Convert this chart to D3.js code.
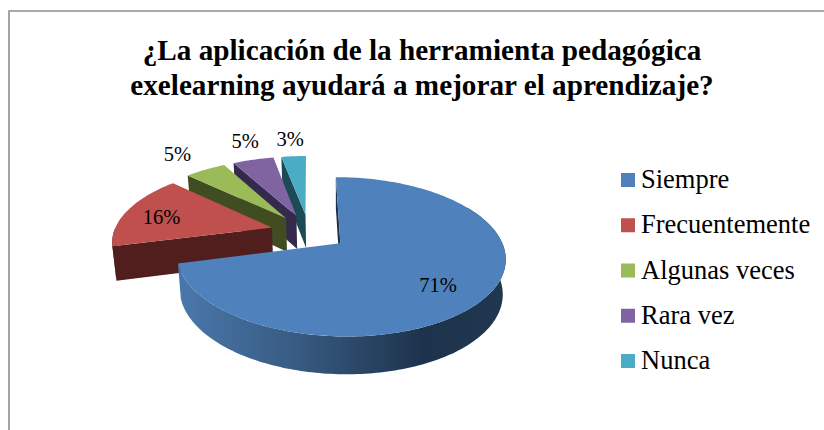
<!DOCTYPE html>
<html><head><meta charset="utf-8">
<script src="https://cdn.jsdelivr.net/npm/d3@7/dist/d3.min.js"></script>
<style>html,body{margin:0;padding:0;background:#fff}svg{display:block}text{font-family:"Liberation Serif",serif;fill:#000}</style>
</head><body><svg id="c" width="824" height="430"></svg>
<script>
const titleLines = ["¿La aplicación de la herramienta pedagógica","exelearning ayudará a mejorar el aprendizaje?"];
const categories = ["Siempre","Frecuentemente","Algunas veces","Rara vez","Nunca"];
const values = [71,16,5,5,3];
const faceColors = ["#4f81bd","#c0504d","#9bbb59","#8064a2","#4bacc6"];
const wallColors = ["#1d334d","#4f1e1d","#404d20","#352a4e","#1c4a55"];
const labelNudge = [[-6,4],[-4,2],[-3,-1],[5,-2],[0,0]];

const W=824,H=430;
const svg=d3.select("#c");
// frame
svg.append("path").attr("d",d3.line()([[9,H],[9,11],[W,11]])).attr("fill","none").attr("stroke","#8e8e8e").attr("stroke-width",1.6);
svg.append("g").selectAll("text").data(titleLines).join("text")
  .attr("x",422).attr("y",(d,i)=>60+i*35).attr("text-anchor","middle")
  .attr("font-size",29.2).attr("font-weight","bold").text(d=>d);

// perspective disc projection: the underside of the disc is slightly smaller
const cx=309,cy=232,Rx=158,Ry=73.6,k=0.165,depth=34,explode=0.245,shrink=0.018,vpx=340;
const project=(u,v,z=0)=>{
  const s=1/(1+k*v),x=cx+Rx*u*s;
  return [z?vpx+(x-vpx)*(1-shrink):x, cy-Ry*v*s+z*Math.sqrt(s)];
};
const pie=d3.pie().sort(null).value(d=>d);
const arcs=pie(values);
const line=d3.line();
const apex=a=>{const m=(a.startAngle+a.endAngle)/2;return [explode*Math.sin(m),explode*Math.cos(m)];};
const rim=(a,t)=>{const [ax,av]=apex(a);return [ax+Math.sin(t),av+Math.cos(t)];};
const steps=(t0,t1)=>{const n=Math.max(2,Math.ceil((t1-t0)/0.02));return d3.range(n+1).map(i=>t0+(t1-t0)*i/n);};

const defs=svg.append("defs");
const grad=defs.append("linearGradient").attr("id","rimMain").attr("gradientUnits","userSpaceOnUse")
  .attr("x1",180).attr("x2",506).attr("y1",0).attr("y2",0);
[[0,"#4a77ab"],[0.37,"#375a80"],[0.74,"#1d334d"],[1,"#20374f"]].forEach(s=>grad.append("stop").attr("offset",s[0]).attr("stop-color",s[1]));

const g=svg.append("g");
arcs.map((a,i)=>i).reverse().forEach(i=>{
  const a=arcs[i],[ax,av]=apex(a);
  const wall=i===0?"url(#rimMain)":wallColors[i];
  // radial wall on the starting edge
  const p=rim(a,a.startAngle);
  g.append("path").attr("d",line([project(ax,av),project(p[0],p[1]),project(p[0],p[1],depth),project(ax,av,depth)])+"Z")
    .attr("fill",wallColors[i]);
  // outer rim, whole lower half plus tangents
  const t0=Math.max(a.startAngle,Math.PI/3),t1=Math.min(a.endAngle,3*Math.PI/2);
  if(t1>t0){
    const ts=steps(t0,t1);
    const top=ts.map(t=>{const q=rim(a,t);return project(q[0],q[1]);});
    const bot=ts.slice().reverse().map(t=>{const q=rim(a,t);return project(q[0],q[1],depth);});
    g.append("path").attr("d",line(top.concat(bot))+"Z").attr("fill",wall);
  }
  // top face
  const pts=[project(ax,av)].concat(steps(a.startAngle,a.endAngle).map(t=>{const q=rim(a,t);return project(q[0],q[1]);}));
  g.append("path").attr("d",line(pts)+"Z").attr("fill",faceColors[i]);
});

// data labels
const total=d3.sum(values);
svg.append("g").selectAll("text").data(arcs).join("text")
  .attr("text-anchor","middle").attr("font-size",20.5)
  .attr("transform",(d,i)=>{
    const m=(d.startAngle+d.endAngle)/2,[ax,av]=apex(d),r=d.value>10?0.73:1.36;
    const [x,y]=project(ax+r*Math.sin(m),av+r*Math.cos(m));
    return `translate(${x+labelNudge[i][0]},${y+7+labelNudge[i][1]})`;
  }).text(d=>Math.round(d.value/total*100)+"%");

// legend
const ly=d3.scalePoint().domain(categories).range([180,361]);
const leg=svg.append("g").selectAll("g").data(categories).join("g")
  .attr("transform",d=>`translate(621,${ly(d)})`);
leg.append("rect").attr("y",-7).attr("width",14).attr("height",14).attr("fill",(d,i)=>faceColors[i]);
leg.append("text").attr("x",20).attr("y",8).attr("font-size",26.5).text(d=>d);
</script></body></html>
